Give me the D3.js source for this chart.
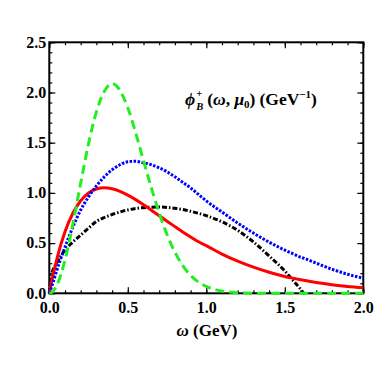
<!DOCTYPE html>
<html><head><meta charset="utf-8">
<script src="https://cdn.jsdelivr.net/npm/d3@7"></script>
<style>
html,body{margin:0;padding:0;background:#fff;}
svg text{font-family:"Liberation Serif","Times New Roman",serif;font-weight:bold;}
</style></head>
<body><svg id="chart" width="374" height="374"></svg>
<script>
// ---- data ----
const omega = [0,0.01,0.02,0.05,0.1,0.15,0.2,0.25,0.3,0.35,0.4,0.45,0.5,0.55,0.6,0.65,0.7,0.75,0.8,0.85,0.9,0.95,1.0,1.1,1.2,1.3,1.4,1.5,1.55,1.6,1.62,1.7,1.8,1.9,2.0];
const phiRed   = [0,0.08,0.154,0.354,0.613,0.797,0.922,0.999,1.039,1.051,1.041,1.016,0.978,0.933,0.882,0.828,0.773,0.718,0.664,0.611,0.561,0.513,0.475,0.39,0.32,0.26,0.21,0.168,0.151,0.135,0.129,0.108,0.086,0.068,0.055];
const phiGreen = [0,0.0035,0.014,0.087,0.331,0.689,1.098,1.491,1.808,2.009,2.09,2.02,1.848,1.60,1.32,1.05,0.80,0.585,0.41,0.275,0.178,0.112,0.068,0.022,0.006,0.0013,0,0,0,0,0,0,0,0,0];
const phiBlue  = [0,0.045,0.09,0.24,0.46,0.66,0.83,0.96,1.07,1.16,1.23,1.28,1.31,1.315,1.30,1.28,1.25,1.21,1.16,1.105,1.05,0.985,0.92,0.81,0.70,0.60,0.51,0.43,0.395,0.36,0.35,0.30,0.24,0.19,0.15];
const phiBlack = [0,0.17,0.22,0.31,0.43,0.51,0.58,0.65,0.715,0.755,0.785,0.81,0.83,0.845,0.853,0.858,0.859,0.855,0.847,0.834,0.817,0.797,0.773,0.712,0.627,0.512,0.372,0.222,0.132,0.042,0,null,null,null,null];
const xMajorTicks = [0,0.5,1.0,1.5,2.0];
const yMajorTicks = [0,0.5,1.0,1.5,2.0,2.5];
const xMinorTicks = d3.range(0,2.0001,0.1);
const yMinorTicks = d3.range(0,2.5001,0.1);

// ---- layout ----
const L=49.3, R=363.3, T=42.3, B=293.3;
const svg = d3.select("#chart");
const x = d3.scaleLinear().domain([0,2]).range([L,R]);
const y = d3.scaleLinear().domain([0,2.5]).range([B,T]);
const fmt = d3.format(".1f");

function styleAxis(g){ g.select(".domain").remove(); g.selectAll(".tick line").attr("stroke","#000").attr("stroke-width",1.2); }

// minor ticks
svg.append("g").attr("transform",`translate(0,${B})`).call(d3.axisBottom(x).tickValues(xMinorTicks).tickSize(-3).tickFormat("")).call(styleAxis);
svg.append("g").attr("transform",`translate(0,${T})`).call(d3.axisTop(x).tickValues(xMinorTicks).tickSize(-3).tickFormat("")).call(styleAxis);
svg.append("g").attr("transform",`translate(${L},0)`).call(d3.axisLeft(y).tickValues(yMinorTicks).tickSize(-3).tickFormat("")).call(styleAxis);
svg.append("g").attr("transform",`translate(${R},0)`).call(d3.axisRight(y).tickValues(yMinorTicks).tickSize(-3).tickFormat("")).call(styleAxis);
// major ticks
const gx = svg.append("g").attr("transform",`translate(0,${B})`).call(d3.axisBottom(x).tickValues(xMajorTicks).tickSize(-6).tickPadding(8).tickFormat(fmt)).call(styleAxis);
svg.append("g").attr("transform",`translate(0,${T})`).call(d3.axisTop(x).tickValues(xMajorTicks).tickSize(-6).tickFormat("")).call(styleAxis);
const gy = svg.append("g").attr("transform",`translate(${L},0)`).call(d3.axisLeft(y).tickValues(yMajorTicks).tickSize(-6).tickPadding(3).tickFormat(fmt)).call(styleAxis);
svg.append("g").attr("transform",`translate(${R},0)`).call(d3.axisRight(y).tickValues(yMajorTicks).tickSize(-6).tickFormat("")).call(styleAxis);
[gx,gy].forEach(g=>g.selectAll("text").attr("fill","#000").style("font-size","16px").style("font-family","'Liberation Serif',serif").style("font-weight","bold"));
gy.selectAll("text").attr("dy","0.3em");

// frame
svg.append("rect").attr("x",L).attr("y",T).attr("width",R-L).attr("height",B-T).attr("fill","none").attr("stroke","#000").attr("stroke-width",2);

// curves
const series = [
  {vals:phiBlack, color:"#000000", dash:"5,2,1.5,2"},
  {vals:phiRed,   color:"#ff0000", dash:null},
  {vals:phiBlue,  color:"#0000ff", dash:"2.5,1.5"},
  {vals:phiGreen, color:"#22ee22", dash:"9,5"}
];
const line = d3.line().defined(d=>d[1]!==null).x(d=>x(d[0])).y(d=>y(d[1])).curve(d3.curveMonotoneX);
series.forEach(s=>{
  const pts = omega.map((w,i)=>[w,s.vals[i]]);
  svg.append("path").datum(pts).attr("d",line).attr("fill","none")
    .attr("stroke",s.color).attr("stroke-width",3)
    .attr("stroke-dasharray",s.dash);
});

// x-axis title
const xt = svg.append("text").attr("x",207).attr("y",336).attr("text-anchor","middle").style("font-size","17px");
xt.append("tspan").style("font-style","italic").text("ω");
xt.append("tspan").text(" (GeV)");

// annotation
const an = svg.append("text").attr("x",185).attr("y",105).style("font-size","17.5px");
an.append("tspan").style("font-style","italic").text("ϕ");
an.append("tspan").attr("dx",1).attr("dy",-8).style("font-size","10.5px").text("+");
an.append("tspan").attr("dx",-6).attr("dy",13).style("font-size","10.5px").style("font-style","italic").text("B");
an.append("tspan").attr("dx",4).attr("dy",-5).text("(");
an.append("tspan").style("font-style","italic").text("ω");
an.append("tspan").text(", ");
an.append("tspan").style("font-style","italic").text("μ");
an.append("tspan").attr("dy",3).style("font-size","11px").text("0");
an.append("tspan").attr("dy",-3).text(")");
an.append("tspan").attr("dx",4).text("(GeV");
an.append("tspan").attr("dy",-7).style("font-size","11px").text("−1");
an.append("tspan").attr("dy",7).text(")");
</script>
</body></html>
